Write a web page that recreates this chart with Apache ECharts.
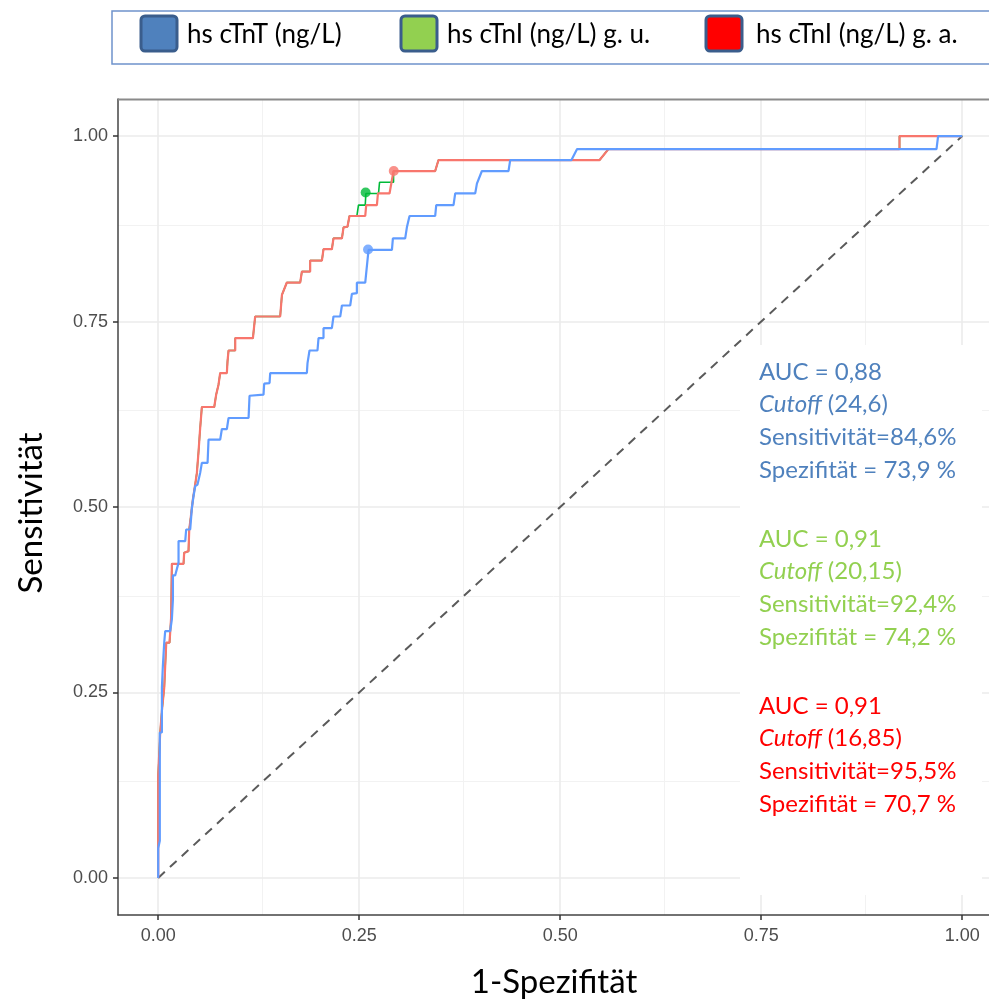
<!DOCTYPE html>
<html>
<head>
<meta charset="utf-8">
<script src="https://cdn.jsdelivr.net/npm/echarts@6.0.0/dist/echarts.min.js"></script>
<style>
  html, body { margin: 0; padding: 0; background: #fff; }
  #roc-chart { width: 989px; height: 1003px; }
</style>
</head>
<body>
<div id="roc-chart"></div>
<script>
/* values */
var tickValues = [0, 0.25, 0.5, 0.75, 1];
var minorValues = [0.125, 0.375, 0.625, 0.875];

var legendNames = ["hs cTnT (ng/L)", "hs cTnI (ng/L) g. u.", "hs cTnI (ng/L) g. a."];

// hs cTnT
var blueFpr = [0, 0, 0.002, 0.002, 0.0046, 0.0046, 0.0058, 0.0075, 0.0087, 0.0149, 0.017, 0.0183, 0.0183, 0.0211,
  0.0253, 0.0253, 0.0336, 0.0348, 0.0398, 0.0419, 0.0439, 0.046, 0.0489, 0.0522, 0.0543, 0.0614, 0.0626, 0.0771,
  0.0792, 0.0854, 0.0875, 0.1124, 0.1136, 0.131, 0.1318, 0.1385, 0.1393, 0.1849, 0.1857, 0.1882, 0.1981, 0.1994,
  0.2056, 0.2056, 0.216, 0.218, 0.2264, 0.2285, 0.2388, 0.2409, 0.2471, 0.2471, 0.2575, 0.2616, 0.2907, 0.2919,
  0.3072, 0.3093, 0.3126, 0.3445, 0.3458, 0.3673, 0.3694, 0.3943, 0.3964, 0.4026, 0.4357, 0.4378, 0.514, 0.521,
  0.968, 0.97, 1];
var blueSens = [0, 0.04, 0.05, 0.196, 0.196, 0.2565, 0.2857, 0.3171, 0.3328, 0.3328, 0.3486, 0.3755, 0.4077, 0.4077,
  0.425, 0.454, 0.454, 0.4697, 0.4697, 0.4989, 0.5145, 0.528, 0.5303, 0.546, 0.5594, 0.5594, 0.5908, 0.5908,
  0.6051, 0.6051, 0.62, 0.62, 0.65, 0.6514, 0.6662, 0.6671, 0.6806, 0.6806, 0.694, 0.711, 0.711, 0.7277,
  0.7277, 0.741, 0.741, 0.7568, 0.7568, 0.7716, 0.7716, 0.7873, 0.7882, 0.8024, 0.8024, 0.8466, 0.8466, 0.8622,
  0.8622, 0.877, 0.8923, 0.8923, 0.907, 0.907, 0.9227, 0.9227, 0.936, 0.9529, 0.9529, 0.9677, 0.9677, 0.9825,
  0.9825, 1, 1];

// hs cTnI g. a.
var redFpr = [0, 0, 0, 0.0025, 0.0046, 0.0075, 0.0087, 0.01, 0.0141, 0.016, 0.017, 0.0315, 0.0323, 0.0377, 0.0386,
  0.0407, 0.0431, 0.046, 0.0481, 0.0502, 0.0522, 0.0543, 0.0697, 0.0721, 0.075, 0.0771, 0.0854, 0.0862, 0.0875,
  0.0958, 0.0958, 0.1178, 0.1206, 0.1517, 0.1539, 0.16, 0.1766, 0.1787, 0.189, 0.189, 0.2036, 0.2056, 0.216,
  0.218, 0.2285, 0.2305, 0.2354, 0.2379, 0.2575, 0.2587, 0.272, 0.2733, 0.2877, 0.2927, 0.3445, 0.3486, 0.549,
  0.56, 0.922, 0.922, 1];
var redSens = [0, 0.0435, 0.1377, 0.196, 0.2252, 0.2565, 0.2857, 0.3171, 0.3171, 0.35, 0.4234, 0.4234, 0.4382, 0.4405,
  0.4697, 0.4876, 0.51, 0.5303, 0.546, 0.5751, 0.6065, 0.6348, 0.6348, 0.6514, 0.6649, 0.6806, 0.6806, 0.6962,
  0.711, 0.711, 0.7277, 0.7277, 0.7568, 0.7568, 0.786, 0.8026, 0.8026, 0.8174, 0.8174, 0.8322, 0.8322, 0.8475,
  0.8475, 0.8622, 0.8622, 0.877, 0.8778, 0.8923, 0.8923, 0.907, 0.907, 0.9227, 0.9227, 0.9529, 0.9529, 0.9677,
  0.9677, 0.9825, 0.9825, 1, 1];

// hs cTnI g. u.
var greenFpr = [0, 0, 0, 0.0025, 0.0046, 0.0075, 0.0087, 0.01, 0.0141, 0.016, 0.017, 0.0315, 0.0323, 0.0377, 0.0386,
  0.0407, 0.0431, 0.046, 0.0481, 0.0502, 0.0522, 0.0543, 0.0697, 0.0721, 0.075, 0.0771, 0.0854, 0.0862, 0.0875,
  0.0958, 0.0958, 0.1178, 0.1206, 0.1517, 0.1539, 0.16, 0.1766, 0.1787, 0.189, 0.189, 0.2036, 0.2056, 0.216,
  0.218, 0.2285, 0.2305, 0.2354, 0.2379, 0.2471, 0.2491, 0.2575, 0.2583, 0.274, 0.2753, 0.2927, 0.2927, 0.3445,
  0.3486, 0.549, 0.56, 0.922, 0.922, 1];
var greenSens = [0, 0.0435, 0.1377, 0.196, 0.2252, 0.2565, 0.2857, 0.3171, 0.3171, 0.35, 0.4234, 0.4234, 0.4382, 0.4405,
  0.4697, 0.4876, 0.51, 0.5303, 0.546, 0.5751, 0.6065, 0.6348, 0.6348, 0.6514, 0.6649, 0.6806, 0.6806, 0.6962,
  0.711, 0.711, 0.7277, 0.7277, 0.7568, 0.7568, 0.786, 0.8026, 0.8026, 0.8174, 0.8174, 0.8322, 0.8322, 0.8475,
  0.8475, 0.8622, 0.8622, 0.877, 0.8778, 0.8923, 0.8923, 0.907, 0.907, 0.9227, 0.9227, 0.9378, 0.9378, 0.9529,
  0.9529, 0.9677, 0.9677, 0.9825, 0.9825, 1, 1];

// cutoff points: cTnT, cTnI g. u., cTnI g. a.
var cutoffFpr = [0.261, 0.258, 0.293];
var cutoffSens = [0.847, 0.924, 0.953];

var diagFpr = [0, 1];
var diagSens = [0, 1];

var blueNotes = ["AUC = 0,88", "{i|Cutoff} (24,6)", "Sensitivität=84,6%", "Spezifität = 73,9 %"];
var greenNotes = ["AUC = 0,91", "{i|Cutoff} (20,15)", "Sensitivität=92,4%", "Spezifität = 74,2 %"];
var redNotes = ["AUC = 0,91", "{i|Cutoff} (16,85)", "Sensitivität=95,5%", "Spezifität = 70,7 %"];

/* chart */
var lineBlue = "#619CFF";
var lineGreen = "#00BA38";
var lineRed = "#F8766D";
var noteColors = ["#4F81BD", "#92D050", "#FF0000"];
var legendFill = ["#4F81BD", "#92D050", "#FF0000"];
var textFont = "Lato, 'Open Sans', sans-serif";

function pairs(xs, ys) {
  var out = [];
  for (let i = 0; i < xs.length; i++) {
    out.push([xs[i], ys[i]]);
  }
  return out;
}

function curve(name, xs, ys, color, z, width) {
  return {
    name: name,
    type: "line",
    data: pairs(xs, ys),
    showSymbol: false,
    symbol: "none",
    z: z,
    lineStyle: { color: color, width: width },
    silent: true,
  };
}

var dom = document.getElementById("roc-chart");
var myChart = echarts.init(dom, null, { renderer: "canvas" });

var gridLines = [];
minorValues.forEach(function (v) {
  gridLines.push({ xAxis: v, lineStyle: { color: "#F2F2F2", width: 1, type: "solid" } });
  gridLines.push({ yAxis: v, lineStyle: { color: "#F2F2F2", width: 1, type: "solid" } });
});
tickValues.forEach(function (v) {
  gridLines.push({ xAxis: v, lineStyle: { color: "#EBEBEB", width: 1.6, type: "solid" } });
  gridLines.push({ yAxis: v, lineStyle: { color: "#EBEBEB", width: 1.6, type: "solid" } });
});

// legend and notes drawn as graphics
var graphics = [];
graphics.push({
  type: "rect",
  shape: { x: 112, y: 11, width: 900, height: 53 },
  style: { fill: "#fff", stroke: "#6F93CC", lineWidth: 1.5 },
  z: 20,
});
var legendBoxX = [141, 401, 706];
var legendTextX = [187, 447, 756];
for (let i = 0; i < legendNames.length; i++) {
  graphics.push({
    type: "rect",
    shape: { x: legendBoxX[i], y: 16, width: 36, height: 35, r: 4 },
    style: { fill: legendFill[i], stroke: "#3A5D8C", lineWidth: 3 },
    z: 21,
  });
  graphics.push({
    type: "text",
    x: legendTextX[i],
    y: 35,
    style: {
      text: legendNames[i],
      fontSize: 26,
      fontFamily: textFont,
      fill: "#000",
      verticalAlign: "middle",
    },
    z: 21,
  });
}

// top edge of the panel
graphics.push({
  type: "line",
  shape: { x1: 118, y1: 99.5, x2: 989, y2: 99.5 },
  style: { stroke: "#8A8A8A", lineWidth: 2 },
  z: 8,
});

// white box behind the notes
graphics.push({
  type: "rect",
  shape: { x: 740, y: 345, width: 242, height: 550 },
  style: { fill: "#fff" },
  z: 5,
});

var noteGroups = [blueNotes, greenNotes, redNotes];
var groupTop = [372, 539, 706];
for (let g = 0; g < noteGroups.length; g++) {
  for (let k = 0; k < noteGroups[g].length; k++) {
    graphics.push({
      type: "text",
      x: 759,
      y: groupTop[g] + k * 32.7,
      style: {
        text: noteGroups[g][k],
        fontSize: 24,
        fontFamily: textFont,
        fill: noteColors[g],
        verticalAlign: "middle",
        rich: {
          i: { fontStyle: "italic", fontSize: 24, fontFamily: textFont, fill: noteColors[g] },
        },
      },
      z: 6,
    });
  }
}

// axis titles
graphics.push({
  type: "text",
  x: 554,
  y: 982,
  style: {
    text: "1-Spezifität",
    fontSize: 33,
    fontFamily: textFont,
    fill: "#000",
    align: "center",
    verticalAlign: "middle",
  },
});
graphics.push({
  type: "text",
  x: 31,
  y: 513,
  rotation: Math.PI / 2,
  style: {
    text: "Sensitivität",
    fontSize: 33,
    fontFamily: textFont,
    fill: "#000",
    align: "center",
    verticalAlign: "middle",
  },
});

var tickLabel = {
  customValues: tickValues,
  formatter: function (v) {
    return v.toFixed(2);
  },
  color: "#4D4D4D",
  fontSize: 18,
  fontFamily: "'Liberation Sans Narrow', 'Liberation Sans', sans-serif",
};

var axisEdge = { show: true, onZero: false, lineStyle: { color: "#444", width: 1.5 } };
var axisTicks = { show: true, customValues: tickValues, length: 5, lineStyle: { color: "#333", width: 1.5 } };

var option = {
  animation: false,
  backgroundColor: "#fff",
  grid: {
    left: 118,
    top: 99,
    right: 0,
    height: 816,
    show: false,
    containLabel: false,
  },
  xAxis: {
    type: "value",
    min: -0.05,
    max: 1.0333,
    axisLine: axisEdge,
    axisTick: axisTicks,
    axisLabel: Object.assign({ margin: 12 }, tickLabel),
    splitLine: { show: false },
  },
  yAxis: {
    type: "value",
    min: -0.05,
    max: 1.05,
    axisLine: axisEdge,
    axisTick: axisTicks,
    axisLabel: Object.assign({ margin: 10 }, tickLabel),
    splitLine: { show: false },
  },
  graphic: graphics,
  series: [
    {
      name: "grid",
      type: "line",
      data: [],
      z: 0,
      silent: true,
      markLine: {
        z: 0,
        silent: true,
        symbol: "none",
        label: { show: false },
        animation: false,
        data: gridLines,
      },
    },
    {
      name: "diag",
      type: "line",
      data: pairs(diagFpr, diagSens),
      showSymbol: false,
      symbol: "none",
      z: 2,
      lineStyle: { color: "#5A5A5A", width: 2, type: [9, 7] },
    },
    curve(legendNames[1], greenFpr, greenSens, lineGreen, 3, 1.6),
    curve(legendNames[2], redFpr, redSens, lineRed, 4, 2.2),
    curve(legendNames[0], blueFpr, blueSens, lineBlue, 5, 2.2),
    {
      type: "scatter",
      z: 6,
      symbolSize: 10,
      data: [
        { value: [cutoffFpr[1], cutoffSens[1]], itemStyle: { color: lineGreen } },
        { value: [cutoffFpr[2], cutoffSens[2]], itemStyle: { color: lineRed } },
        { value: [cutoffFpr[0], cutoffSens[0]], itemStyle: { color: lineBlue } },
      ],
    },
  ],
};

myChart.setOption(option);
window.addEventListener("resize", myChart.resize);
</script>
</body>
</html>
